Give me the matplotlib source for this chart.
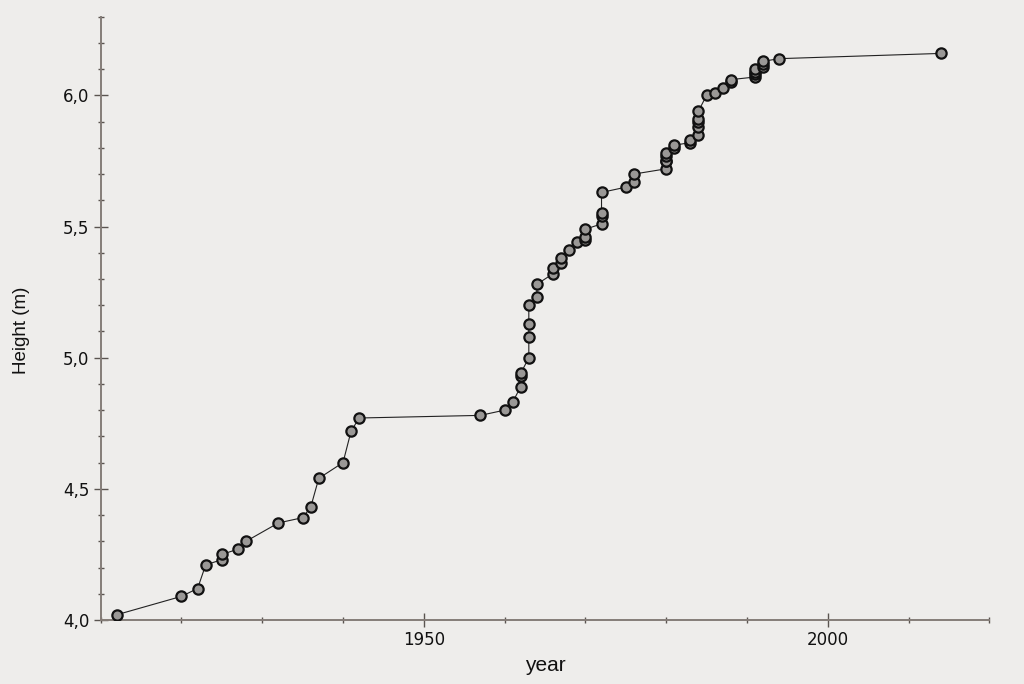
import matplotlib.pyplot as plt
from matplotlib.ticker import MultipleLocator, FuncFormatter

# pole vault world record progression (men)
years = [1912, 1920, 1922, 1923, 1925, 1925, 1927, 1928, 1932, 1935, 1936,
         1937, 1940, 1941, 1942, 1957, 1960, 1961, 1962, 1962, 1962, 1963,
         1963, 1963, 1963, 1964, 1964, 1966, 1966, 1967, 1967, 1968, 1969,
         1970, 1970, 1970, 1972, 1972, 1972, 1972, 1975, 1976, 1976, 1980,
         1980, 1980, 1980, 1980, 1981, 1981, 1983, 1983, 1984, 1984, 1984,
         1984, 1984, 1985, 1986, 1987, 1988, 1988, 1991, 1991, 1991, 1991,
         1992, 1992, 1992, 1994, 2014]
heights = [4.02, 4.09, 4.12, 4.21, 4.23, 4.25, 4.27, 4.30, 4.37, 4.39, 4.43,
           4.54, 4.60, 4.72, 4.77, 4.78, 4.80, 4.83, 4.89, 4.93, 4.94, 5.00,
           5.08, 5.13, 5.20, 5.23, 5.28, 5.32, 5.34, 5.36, 5.38, 5.41, 5.44,
           5.45, 5.46, 5.49, 5.51, 5.54, 5.55, 5.63, 5.65, 5.67, 5.70, 5.72,
           5.75, 5.75, 5.77, 5.78, 5.80, 5.81, 5.82, 5.83, 5.85, 5.88, 5.90,
           5.91, 5.94, 6.00, 6.01, 6.03, 6.05, 6.06, 6.07, 6.08, 6.09, 6.10,
           6.11, 6.12, 6.13, 6.14, 6.16]

BG = '#eeedeb'
AXIS_COL = '#857d78'

fig = plt.figure(figsize=(10.24, 6.84), dpi=100, facecolor=BG)
ax = fig.add_axes([0.0983, 0.0936, 0.8678, 0.882])
ax.set_facecolor(BG)

ax.plot(years, heights, color='#222222', linewidth=0.8, marker='o',
        markersize=7.4, markerfacecolor='#9a9896', markeredgecolor='#111111',
        markeredgewidth=1.6, zorder=3)

ax.set_xlim(1910, 2020)
ax.set_ylim(4.0, 6.3)

ax.xaxis.set_major_locator(MultipleLocator(50))
ax.xaxis.set_minor_locator(MultipleLocator(10))
ax.yaxis.set_major_locator(MultipleLocator(0.5))
ax.yaxis.set_minor_locator(MultipleLocator(0.1))
ax.yaxis.set_major_formatter(FuncFormatter(lambda v, p: f'{v:.1f}'.replace('.', ',')))
ax.xaxis.set_major_formatter(FuncFormatter(lambda v, p: '' if v in (1900, 2050) else f'{int(v)}'))

for s in ['top', 'right']:
    ax.spines[s].set_visible(False)
for s in ['left', 'bottom']:
    ax.spines[s].set_color(AXIS_COL)
    ax.spines[s].set_linewidth(1.4)

ax.tick_params(which='major', direction='inout', length=9.4, width=1.0,
               color='#5a5450', labelsize=12, pad=3.5, labelcolor='#111111')
ax.tick_params(which='minor', direction='inout', length=4.5, width=1.0,
               color='#5a5450')

ax.set_xlabel('year', fontsize=15, family='Liberation Sans', color='#111111')
ax.set_ylabel('Height (m)', fontsize=13.5, family='Liberation Sans', color='#111111')
ax.xaxis.set_label_coords(0.5, -0.076)
ax.yaxis.set_label_coords(-0.0886, 0.48)
ax.xaxis.label.set_va('center')
ax.yaxis.label.set_va('center')

fig.savefig('out.png', dpi=100, facecolor=BG)
